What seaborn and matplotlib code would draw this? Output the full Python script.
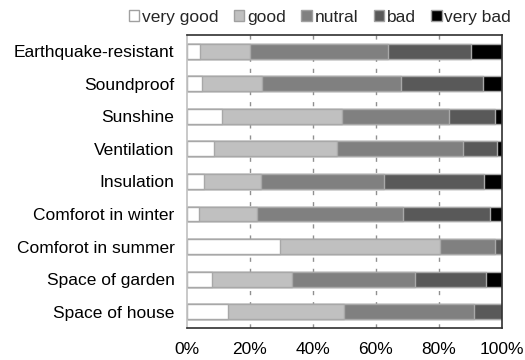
import matplotlib
matplotlib.use("Agg")
import matplotlib.pyplot as plt
from matplotlib.patches import Patch
import numpy as np
import pandas as pd
import seaborn as sns

items = ["Earthquake-resistant", "Soundproof", "Sunshine", "Ventilation", "Insulation",
         "Comforot in winter", "Comforot in summer", "Space of garden", "Space of house"]
levels = ["very good", "good", "nutral", "bad", "very bad"]

very_good = [4.3, 4.9, 11.3, 8.6, 5.4, 3.7, 29.7, 8.0, 12.9]
good      = [15.7, 18.9, 38.0, 39.1, 18.0, 18.5, 50.8, 25.5, 36.9]
nutral    = [43.7, 44.1, 33.9, 39.8, 39.1, 46.4, 17.3, 38.9, 41.4]
bad       = [26.5, 26.2, 14.6, 10.8, 31.7, 27.6, 2.2, 22.7, 8.8]
very_bad  = [9.8, 5.9, 2.2, 1.7, 5.8, 3.8, 0.0, 4.9, 0.0]

colors = ["#ffffff", "#c0c0c0", "#808080", "#595959", "#000000"]

df = pd.DataFrame({"item": items, "very good": very_good, "good": good,
                   "nutral": nutral, "bad": bad, "very bad": very_bad})
cum = df[levels].cumsum(axis=1)
cum["item"] = df["item"]

sns.set_theme(style="white")
plt.rcParams["font.family"] = ["Liberation Sans", "DejaVu Sans"]

fig = plt.figure(figsize=(5.25, 3.6), dpi=100)
ax = fig.add_axes([0.356, 0.089, 0.600, 0.814])

# stacked bars: draw cumulative totals from the outermost level inward
for lev, col in reversed(list(zip(levels, colors))):
    sns.barplot(data=cum, x=lev, y="item", order=items, color=col, orient="h",
                width=0.46, edgecolor="#a8a8a8", linewidth=1.0, saturation=1,
                ax=ax, zorder=2)

ax.set_xlim(0, 100)
ax.set_xticks([0, 20, 40, 60, 80, 100])
ax.set_xticklabels(["0%", "20%", "40%", "60%", "80%", "100%"])
ax.set_xlabel("")
ax.set_ylabel("")
ax.tick_params(axis="both", length=0, labelsize=12.5, colors="#000000")
ax.tick_params(axis="y", pad=9)
ax.tick_params(axis="x", pad=10)

for x in [20, 40, 60, 80]:
    ax.axvline(x, color="#909090", linestyle=(0, (3, 5)), linewidth=1.0, zorder=1)

for side in ["top", "right", "bottom"]:
    ax.spines[side].set_color("#303030")
    ax.spines[side].set_linewidth(1.2)
ax.spines["left"].set_color("#c0c0c0")
ax.spines["left"].set_linewidth(1.2)

handles = [Patch(facecolor=c, edgecolor="#a0a0a0", linewidth=1.0) for c in colors]
ax.legend(handles, levels, ncol=5, loc="lower right", bbox_to_anchor=(1.062, 1.0),
          frameon=False, fontsize=12.5, handlelength=0.6, handleheight=0.6,
          handletextpad=0.15, columnspacing=0.9, borderaxespad=0.2)

fig.savefig("out.png", dpi=100)
